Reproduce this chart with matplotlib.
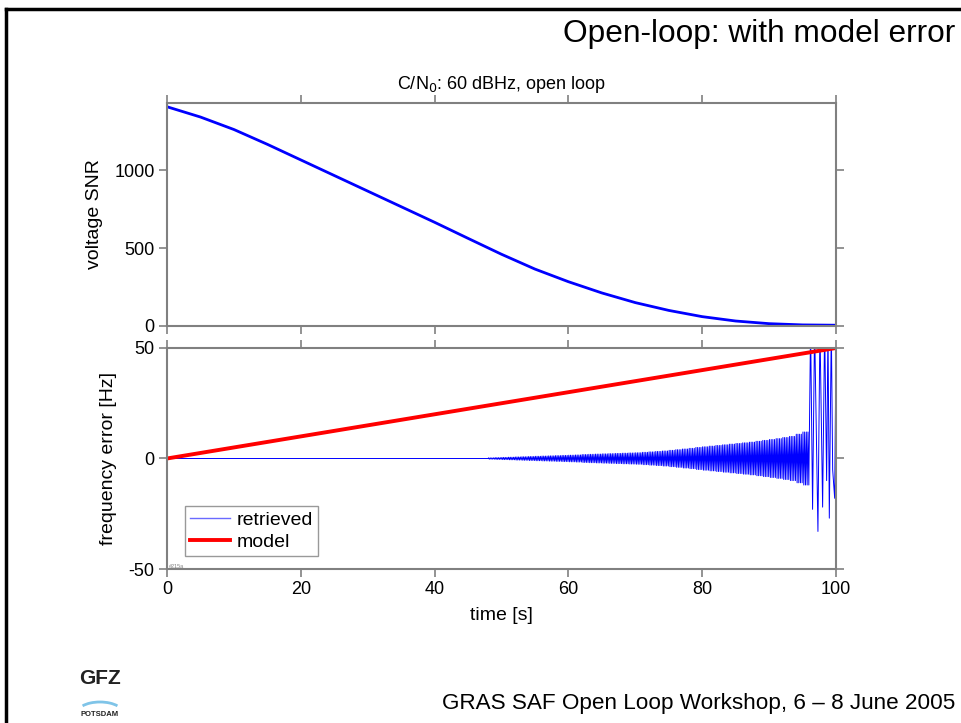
import numpy as np
import matplotlib.pyplot as plt
from matplotlib.lines import Line2D
from matplotlib.patches import Arc

plt.rcParams['font.family'] = ['Liberation Sans', 'DejaVu Sans']
plt.rcParams['axes.unicode_minus'] = False

# ======================= data =======================
# top panel: voltage SNR vs time
snr_t = [0, 5, 10, 15, 20, 25, 30, 35, 40, 45, 50, 55, 60, 65, 70, 75, 80, 85, 90, 95, 100]
snr_v = [1406, 1340, 1260, 1165, 1065, 965, 865, 765, 665, 562, 460, 365, 284, 212,
         150, 100, 60, 32, 15, 7, 5]

# bottom panel: model frequency error (straight line)
model_t = [0, 100]
model_f = [0, 50]

# retrieved: flat until ~48 s, then oscillation whose amplitude (Hz) per second is:
osc_t0 = 48
osc_amp = [0.3, 0.4, 0.5, 0.6, 0.7, 0.8, 0.9,
           1.0, 1.1, 1.2, 1.3, 1.4,
           1.5, 1.6, 1.8, 1.9, 2.0,
           2.1, 2.2, 2.3, 2.4, 2.5,
           2.6, 2.8, 3.0, 3.2, 3.4,
           3.7, 4.0, 4.3, 4.6, 5.0,
           5.3, 5.6, 5.9, 6.2, 6.5,
           6.8, 7.1, 7.4, 7.8, 8.2,
           8.6, 9.0, 9.5, 10.0, 11.0, 12.0]
# large swings at the very end (clipped at +50 by the axis)
burst_t = [96.2, 96.5, 96.8, 97.3, 97.6, 98.0, 98.3, 98.6, 98.8, 99.0, 99.3, 99.5, 99.8, 100.0]
burst_f = [60, -23, 60, -33, 60, -22, 60, -10, 60, -27, 60, -5, -18, 50]

# ======================= build retrieved series =======================
per_sec = 8
ret_t = [0.0, float(osc_t0)]
ret_f = [0.0, 0.0]
sign = 1
for i, a in enumerate(osc_amp):
    for j in range(per_sec):
        ret_t.append(osc_t0 + i + (j + 0.5) / per_sec)
        ret_f.append(sign * a)
        sign = -sign
ret_t += burst_t
ret_f += burst_f

# ======================= figure =======================
fig = plt.figure(figsize=(9.62, 7.23), dpi=100)
W, H = 962, 723

def ax_rect(x0, y0, x1, y1):
    return [x0 / W, 1 - y1 / H, (x1 - x0) / W, (y1 - y0) / H]

gray = '#808080'

def style(ax):
    for s in ax.spines.values():
        s.set_color(gray)
        s.set_linewidth(1.5)
    ax.tick_params(direction='out', length=6, width=1.2, color=gray,
                   labelsize=13, top=True, right=True, pad=3)

ax1 = fig.add_axes(ax_rect(167, 103, 836, 326))
ax1.plot(snr_t, snr_v, color='#0000ff', lw=2.0)
ax1.set_xlim(0, 100)
ax1.set_ylim(0, 1430)
ax1.set_xticks(range(0, 101, 20))
ax1.set_yticks([0, 500, 1000])
ax1.set_xticklabels([])
ax1.set_ylabel('voltage SNR', fontsize=14, labelpad=8)
ax1.set_title(r'C/N$_0$: 60 dBHz, open loop', fontsize=13, pad=10)
style(ax1)

ax2 = fig.add_axes(ax_rect(167, 348, 836, 569))
ax2.plot(ret_t, ret_f, color='#0000ff', lw=0.7, label='retrieved')
ax2.plot(model_t, model_f, color='#ff0000', lw=2.8, label='model')
ax2.set_xlim(0, 100)
ax2.set_ylim(-50, 50)
ax2.set_xticks(range(0, 101, 20))
ax2.set_yticks([-50, 0, 50])
ax2.set_xlabel('time [s]', fontsize=14, labelpad=6)
ax2.set_ylabel('frequency error [Hz]', fontsize=14, labelpad=8)
style(ax2)
leg = ax2.legend(loc='lower left', bbox_to_anchor=(0.012, 0.015), fontsize=14,
                 frameon=True, fancybox=False, handlelength=2.1,
                 borderpad=0.25, labelspacing=0.25, handletextpad=0.3)
leg.get_frame().set_edgecolor(gray)
leg.get_frame().set_linewidth(1.0)
leg.get_lines()[0].set_color('#6a6aff')
leg.get_lines()[0].set_linewidth(1.0)
ax2.text(0.003, 0.005, '#215a', transform=ax2.transAxes, fontsize=4, color=gray)

# slide decoration
fig.add_artist(Line2D([6 / W, 1], [1 - 9 / H, 1 - 9 / H], color='black', lw=2.5))
fig.add_artist(Line2D([6 / W, 6 / W], [0, 1 - 9 / H], color='black', lw=2.5))
fig.text(955 / W, 1 - 34 / H, 'Open-loop: with model error', fontsize=22.8,
         ha='right', va='center')
fig.text(955 / W, 1 - 703 / H, 'GRAS SAF Open Loop Workshop, 6 \u2013 8 June 2005',
         fontsize=16.2, ha='right', va='center')
fig.text(100 / W, 1 - 679 / H, 'GFZ', fontsize=15, fontweight='bold',
         ha='center', va='center', color='#222222')
fig.add_artist(Arc((100 / W, 1 - 712 / H), 44 / W, 20 / H, theta1=25, theta2=155,
                   color='#7fc4e8', lw=2, transform=fig.transFigure))
fig.text(100 / W, 1 - 715 / H, 'POTSDAM', fontsize=5.5, fontweight='bold',
         ha='center', va='center', color='#222222')

fig.savefig('out.png', dpi=100)
